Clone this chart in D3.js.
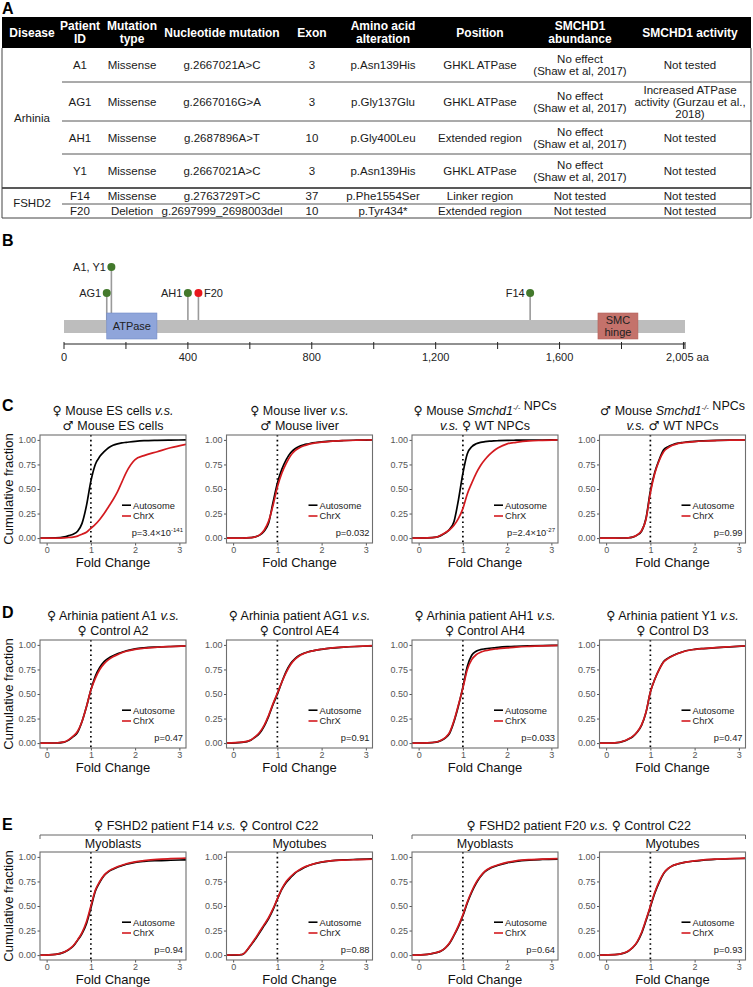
<!DOCTYPE html>
<html><head><meta charset="utf-8">
<script src="https://cdn.jsdelivr.net/npm/d3@7/dist/d3.min.js"></script>
<style>
body{margin:0;background:#fff}
svg{display:block;font-family:"Liberation Sans",Arial,Helvetica,sans-serif}
</style>
</head><body>
<svg id="fig" width="753" height="987"></svg>
<script>
// ================= DATA =================
// Panel A table
const tableHeaders = ["Disease","Patient\nID","Mutation\ntype","Nucleotide mutation","Exon","Amino acid\nalteration","Position","SMCHD1\nabundance","SMCHD1 activity"];
const diseaseGroups = ["Arhinia","FSHD2"];
const diseaseRowCounts = [4,2];
const patientIds = ["A1","AG1","AH1","Y1","F14","F20"];
const mutationTypes = ["Missense","Missense","Missense","Missense","Missense","Deletion"];
const nucleotideMutations = ["g.2667021A>C","g.2667016G>A","g.2687896A>T","g.2667021A>C","g.2763729T>C","g.2697999_2698003del"];
const exons = ["3","3","10","3","37","10"];
const aminoAcidChanges = ["p.Asn139His","p.Gly137Glu","p.Gly400Leu","p.Asn139His","p.Phe1554Ser","p.Tyr434*"];
const proteinRegions = ["GHKL ATPase","GHKL ATPase","Extended region","GHKL ATPase","Linker region","Extended region"];
const smchd1Abundance = ["No effect\n(Shaw et al, 2017)","No effect\n(Shaw et al, 2017)","No effect\n(Shaw et al, 2017)","No effect\n(Shaw et al, 2017)","Not tested","Not tested"];
const smchd1Activity = ["Not tested","Increased ATPase\nactivity (Gurzau et al.,\n2018)","Not tested","Not tested","Not tested","Not tested"];

// Panel B protein map
const proteinLength = 2005;
const domainNames = ["ATPase","SMC\nhinge"];
const domainStart = [138, 1724];
const domainEnd = [300, 1853];
const mutationLabels = ["AG1","A1, Y1","AH1","F20","F14"];
const mutationAA = [138, 153, 400, 434, 1505];
const mutationKinds = ["missense","missense","missense","deletion","missense"];
const mutationTier = [1,2,1,1,1];
const mutationLabelSide = ["left","left","left","right","left"];
const proteinTicks = [0,200,400,600,800,1000,1200,1400,1600,1800,2000,2005];
const proteinTickLabels = [0,400,800,1200,1600,2005];

// Panels C-E cumulative distributions (fold change grid)
const foldGrid = [-0.15,0.2,0.4,0.5,0.6,0.7,0.8,0.9,1.0,1.1,1.2,1.3,1.4,1.5,1.6,1.7,1.8,2.0,2.2,2.5,2.8,3.15];
const yTicks = [0,0.25,0.5,0.75,1];
const xTicks = [0,1,2,3];

const esAutosome   = [0,0.002,0.012,0.025,0.04,0.07,0.15,0.33,0.58,0.75,0.83,0.88,0.92,0.945,0.96,0.97,0.975,0.985,0.992,0.996,0.998,1];
const esChrX       = [0,0,0.003,0.006,0.01,0.02,0.04,0.06,0.10,0.14,0.19,0.25,0.32,0.39,0.47,0.57,0.67,0.80,0.84,0.88,0.92,0.955];
const liverAutosome= [0,0,0.005,0.012,0.03,0.07,0.15,0.36,0.56,0.7,0.8,0.87,0.91,0.935,0.95,0.96,0.97,0.98,0.988,0.994,0.997,1];
const liverChrX    = [0,0,0.005,0.013,0.033,0.08,0.17,0.33,0.52,0.66,0.76,0.84,0.89,0.92,0.94,0.955,0.965,0.977,0.986,0.993,0.997,1];
const fNpcAutosome = [0,0.002,0.01,0.025,0.05,0.09,0.17,0.39,0.66,0.86,0.93,0.96,0.975,0.982,0.987,0.99,0.992,0.995,0.997,0.998,0.999,1];
const fNpcChrX     = [0,0.002,0.01,0.03,0.055,0.085,0.13,0.2,0.3,0.45,0.56,0.66,0.74,0.8,0.85,0.89,0.92,0.96,0.975,0.99,0.995,1];
const mNpcAutosome = [0,0,0.001,0.003,0.01,0.03,0.07,0.2,0.48,0.67,0.8,0.9,0.93,0.95,0.965,0.972,0.977,0.985,0.99,0.995,0.998,1];
const mNpcChrX     = [0,0,0.001,0.003,0.011,0.032,0.075,0.19,0.46,0.66,0.79,0.88,0.92,0.945,0.96,0.968,0.974,0.983,0.989,0.994,0.997,1];

const a1Autosome   = [0,0.001,0.01,0.03,0.065,0.11,0.22,0.37,0.54,0.68,0.77,0.83,0.865,0.89,0.91,0.925,0.94,0.96,0.97,0.978,0.984,0.99];
const a1ChrX       = [0,0.001,0.012,0.035,0.07,0.12,0.22,0.37,0.54,0.66,0.75,0.81,0.85,0.88,0.9,0.92,0.935,0.955,0.966,0.976,0.983,0.99];
const ag1Autosome  = [0,0.008,0.03,0.06,0.1,0.17,0.27,0.39,0.5,0.62,0.73,0.81,0.86,0.895,0.915,0.93,0.94,0.955,0.967,0.977,0.984,0.99];
const ag1ChrX      = [0,0.009,0.032,0.065,0.11,0.18,0.28,0.4,0.51,0.62,0.72,0.8,0.855,0.89,0.912,0.928,0.94,0.956,0.968,0.978,0.985,0.992];
const ah1Autosome  = [0,0.002,0.01,0.025,0.05,0.1,0.22,0.38,0.57,0.78,0.895,0.935,0.952,0.96,0.966,0.97,0.975,0.982,0.986,0.99,0.993,0.995];
const ah1ChrX      = [0,0.002,0.011,0.027,0.055,0.11,0.23,0.39,0.56,0.75,0.85,0.9,0.925,0.94,0.95,0.956,0.962,0.97,0.978,0.985,0.99,0.995];
const y1Autosome   = [0,0.003,0.02,0.04,0.065,0.11,0.18,0.31,0.52,0.65,0.75,0.83,0.865,0.89,0.91,0.925,0.94,0.955,0.963,0.972,0.98,0.99];
const y1ChrX       = [0,0.003,0.021,0.042,0.068,0.112,0.185,0.315,0.52,0.65,0.75,0.825,0.862,0.888,0.908,0.924,0.938,0.954,0.963,0.973,0.981,0.99];

const f14MbAutosome= [0,0.008,0.03,0.055,0.09,0.15,0.22,0.32,0.48,0.65,0.74,0.81,0.85,0.875,0.895,0.91,0.925,0.945,0.955,0.962,0.966,0.97];
const f14MbChrX    = [0,0.008,0.032,0.058,0.095,0.155,0.23,0.34,0.5,0.66,0.75,0.815,0.855,0.88,0.9,0.915,0.93,0.95,0.962,0.975,0.982,0.988];
const f14MtAutosome= [0,0.005,0.1,0.16,0.23,0.3,0.37,0.46,0.57,0.67,0.74,0.79,0.835,0.865,0.89,0.91,0.925,0.947,0.96,0.97,0.975,0.98];
const f14MtChrX    = [0,0.006,0.105,0.17,0.24,0.31,0.38,0.47,0.575,0.675,0.75,0.8,0.84,0.87,0.895,0.912,0.927,0.948,0.96,0.968,0.972,0.976];
const f20MbAutosome= [0,0.008,0.025,0.04,0.07,0.12,0.2,0.29,0.4,0.53,0.64,0.73,0.8,0.85,0.88,0.9,0.915,0.94,0.955,0.968,0.974,0.978];
const f20MbChrX    = [0,0.008,0.026,0.042,0.072,0.125,0.205,0.3,0.41,0.54,0.65,0.74,0.805,0.855,0.885,0.905,0.92,0.945,0.96,0.972,0.978,0.982];
const f20MtAutosome= [0,0.004,0.02,0.04,0.075,0.13,0.22,0.35,0.49,0.63,0.74,0.83,0.88,0.91,0.925,0.937,0.946,0.958,0.968,0.976,0.981,0.985];
const f20MtChrX    = [0,0.004,0.021,0.042,0.078,0.135,0.23,0.36,0.5,0.64,0.75,0.835,0.882,0.91,0.926,0.938,0.947,0.96,0.97,0.978,0.983,0.987];

const titlesC = [["♀ Mouse ES cells _v.s._","♂ Mouse ES cells"],["♀ Mouse liver _v.s._","♂ Mouse liver"],["♀ Mouse _Smchd1_^{-/-} NPCs","_v.s._ ♀ WT NPCs"],["♂ Mouse _Smchd1_^{-/-} NPCs","_v.s._ ♂ WT NPCs"]];
const pValuesC = ["p=3.4×10^{-141}","p=0.032","p=2.4×10^{-27}","p=0.99"];
const titlesD = [["♀ Arhinia patient A1 _v.s._","♀ Control A2"],["♀ Arhinia patient AG1 _v.s._","♀ Control AE4"],["♀ Arhinia patient AH1 _v.s._","♀ Control AH4"],["♀ Arhinia patient Y1 _v.s._","♀ Control D3"]];
const pValuesD = ["p=0.47","p=0.91","p=0.033","p=0.47"];
const groupTitlesE = ["♀ FSHD2 patient F14 _v.s._ ♀ Control C22","♀ FSHD2 patient F20 _v.s._ ♀ Control C22"];
const subTitlesE = ["Myoblasts","Myotubes","Myoblasts","Myotubes"];
const pValuesE = ["p=0.94","p=0.88","p=0.64","p=0.93"];
const seriesNames = ["Autosome","ChrX"];

const seriesC = [[esAutosome,esChrX],[liverAutosome,liverChrX],[fNpcAutosome,fNpcChrX],[mNpcAutosome,mNpcChrX]];
const seriesD = [[a1Autosome,a1ChrX],[ag1Autosome,ag1ChrX],[ah1Autosome,ah1ChrX],[y1Autosome,y1ChrX]];
const seriesE = [[f14MbAutosome,f14MbChrX],[f14MtAutosome,f14MtChrX],[f20MbAutosome,f20MbChrX],[f20MtAutosome,f20MtChrX]];

// ================= DRAWING =================
const svg = d3.select("#fig");
const defs = svg.append("defs");
const RED = "#d31a1f", GREEN = "#43792c", DOTRED = "#e8171c";

function plain(sel, str, baseSize) {
  str.split(/([♀♂])/).filter(s => s.length).forEach(s => {
    if (s === "♀" || s === "♂") {
      sel.append("tspan").attr("font-family", '"DejaVu Sans",sans-serif').attr("font-size", baseSize).text(s);
    } else {
      sel.append("tspan").text(s);
    }
  });
}
// rich text: _italic_ and ^{sup}
function rich(sel, str, baseSize) {
  const parts = str.split(/(_[^_]+_\^\{[^}]+\}|_[^_]+_|\^\{[^}]+\})/).filter(s => s.length);
  parts.forEach(p => {
    let m;
    if ((m = p.match(/^_([^_]+)_\^\{([^}]+)\}$/))) {
      sel.append("tspan").attr("font-style","italic").text(m[1]);
      sel.append("tspan").attr("font-style","italic").attr("font-size", baseSize*0.62).attr("dy", -baseSize*0.38).text(m[2]);
      sel.append("tspan").attr("dy", baseSize*0.38).text("");
    } else if ((m = p.match(/^_([^_]+)_$/))) {
      sel.append("tspan").attr("font-style","italic").text(m[1]);
    } else if ((m = p.match(/^\^\{([^}]+)\}$/))) {
      sel.append("tspan").attr("font-size", baseSize*0.65).attr("dy", -baseSize*0.4).text(m[1]);
      sel.append("tspan").attr("dy", baseSize*0.4).text("");
    } else {
      plain(sel, p, baseSize);
    }
  });
  return sel;
}

function label(g, x, y, str, size, opts={}) {
  const t = g.append("text").attr("x", x).attr("y", y)
    .attr("font-size", size).attr("text-anchor", opts.anchor || "middle")
    .attr("fill", opts.fill || "#000");
  if (opts.bold) t.attr("font-weight","bold");
  rich(t, str, size);
  return t;
}

function multiline(g, x, cy, str, size, lh, opts={}) {
  const lines = str.split("\n");
  const n = lines.length;
  lines.forEach((ln, i) => {
    const y = cy + (i - (n-1)/2)*lh + size*0.36;
    label(g, x, y, ln, size, opts);
  });
}

// panel letters
[["A",14],["B",246],["C",411],["D",618],["E",830]].forEach(([l,y]) =>
  svg.append("text").attr("x",2).attr("y",y).attr("font-size",16).attr("font-weight","bold").text(l));

// ---------- Panel A ----------
(function(){
  const g = svg.append("g");
  const colCenters = [32,80,132,222,312,383,480,580,690];
  const rowEdges = [48,82,121,154,188,204,218];
  const L = 2, R = 751, innerL = 62;
  g.append("rect").attr("x",L).attr("y",17).attr("width",R-L).attr("height",31).attr("fill","#000");
  tableHeaders.forEach((h,i) => multiline(g, colCenters[i], 32.5, h, 12, 13, {bold:true, fill:"#fff"}));
  const cols = [patientIds, mutationTypes, nucleotideMutations, exons, aminoAcidChanges, proteinRegions, smchd1Abundance, smchd1Activity];
  patientIds.forEach((_, r) => {
    const cy = (rowEdges[r] + rowEdges[r+1]) / 2;
    cols.forEach((col, c) => multiline(g, colCenters[c+1], cy, col[r], 11.5, 12, {fill:"#1a1a1a"}));
  });
  let start = 0;
  diseaseGroups.forEach((d, i) => {
    const cy = (rowEdges[start] + rowEdges[start + diseaseRowCounts[i]]) / 2;
    multiline(g, colCenters[0], cy, d, 11.5, 12, {fill:"#1a1a1a"});
    start += diseaseRowCounts[i];
  });
  const lineCol = "#444";
  [1,2,3,5].forEach(k => g.append("line").attr("x1",innerL).attr("x2",R).attr("y1",rowEdges[k]).attr("y2",rowEdges[k]).attr("stroke",lineCol).attr("stroke-width",0.9));
  g.append("line").attr("x1",L).attr("x2",R).attr("y1",rowEdges[4]).attr("y2",rowEdges[4]).attr("stroke","#222").attr("stroke-width",1.5);
  g.append("path").attr("d",`M${L},${rowEdges[0]}V${rowEdges[6]}H${R}V${rowEdges[0]}`).attr("fill","none").attr("stroke",lineCol).attr("stroke-width",1);
})();

// ---------- Panel B ----------
(function(){
  const g = svg.append("g");
  const x = d3.scaleLinear().domain([0, proteinLength]).range([64, 685]);
  const barTop = 320, barH = 13;
  const tierY = {1: 293, 2: 267};
  mutationAA.forEach((aa, i) => {
    g.append("line").attr("x1",x(aa)).attr("x2",x(aa)).attr("y1",tierY[mutationTier[i]]).attr("y2",barTop+1)
      .attr("stroke","#9a9a9a").attr("stroke-width",1.6);
  });
  g.append("rect").attr("x",x(0)).attr("y",barTop).attr("width",x(proteinLength)-x(0)).attr("height",barH).attr("fill","#bdbdbd");
  const domainFill = ["#8fa5da","#c4726b"];
  const domainStroke = ["#7189c6","#b35f58"];
  domainNames.forEach((d,i) => {
    g.append("rect").attr("x",x(domainStart[i])).attr("y",313).attr("width",x(domainEnd[i])-x(domainStart[i])).attr("height",26)
      .attr("fill",domainFill[i]).attr("stroke",domainStroke[i]).attr("stroke-width",0.6);
    multiline(g, (x(domainStart[i])+x(domainEnd[i]))/2, 326, d, 11, 12.5, {fill:"#222"});
  });
  mutationAA.forEach((aa, i) => {
    const cy = tierY[mutationTier[i]];
    g.append("circle").attr("cx",x(aa)).attr("cy",cy).attr("r",4).attr("fill", mutationKinds[i]==="deletion" ? DOTRED : GREEN);
    const left = mutationLabelSide[i]==="left";
    g.append("text").attr("x", x(aa) + (left ? -5.5 : 5.5)).attr("y", cy+4).attr("font-size",11)
      .attr("text-anchor", left ? "end" : "start").attr("fill","#222").text(mutationLabels[i]);
  });
  const axisY = 344;
  g.append("line").attr("x1",x(0)).attr("x2",x(proteinLength)).attr("y1",axisY).attr("y2",axisY).attr("stroke","#222").attr("stroke-width",1);
  proteinTicks.forEach(t => g.append("line").attr("x1",x(t)).attr("x2",x(t)).attr("y1",axisY-2).attr("y2",axisY+5).attr("stroke","#222").attr("stroke-width",1));
  const fmt = d3.format(",");
  proteinTickLabels.forEach(t => {
    if (t === proteinLength) {
      g.append("text").attr("x", x(t)-19).attr("y",361).attr("font-size",11).attr("fill","#222").text(fmt(t) + " aa");
    } else {
      g.append("text").attr("x", x(t)).attr("y",361).attr("font-size",11).attr("text-anchor","middle").attr("fill","#222").text(fmt(t));
    }
  });
})();

// ---------- CDF plots ----------
let clipId = 0;
const PW = 146, PH = 108;
const plotLefts = [40, 226.5, 412, 599.5];
function cdfPlot(left, top, auto, chrx, pLabel) {
  const g = svg.append("g");
  const x = d3.scaleLinear().domain([-0.15, 3.15]).range([left, left + PW]);
  const y = d3.scaleLinear().domain([-0.05, 1.05]).range([top + PH, top]);
  const id = "clip" + (clipId++);
  defs.append("clipPath").attr("id", id).append("rect").attr("x", left).attr("y", top).attr("width", PW).attr("height", PH);
  const yAx = g.append("g").attr("transform", `translate(${left},0)`)
    .call(d3.axisLeft(y).tickValues(yTicks).tickFormat(d3.format(".2f")).tickSize(2.5).tickPadding(1.5));
  const xAx = g.append("g").attr("transform", `translate(0,${top + PH})`)
    .call(d3.axisBottom(x).tickValues(xTicks).tickFormat(d3.format("d")).tickSize(2.5).tickPadding(1.5));
  [yAx, xAx].forEach(a => {
    a.select(".domain").remove();
    a.selectAll("line").attr("stroke", "#555");
    a.selectAll("text").attr("font-size", 9).attr("fill", "#555").attr("font-family", '"Liberation Sans",Arial,sans-serif');
  });
  const cg = g.append("g").attr("clip-path", `url(#${id})`);
  cg.append("line").attr("x1", x(1)).attr("x2", x(1)).attr("y1", top).attr("y2", top + PH)
    .attr("stroke", "#000").attr("stroke-width", 1.7).attr("stroke-dasharray", "1.6,3.2");
  const line = d3.line().x((d, i) => x(foldGrid[i])).y(d => y(d)).curve(d3.curveMonotoneX);
  cg.append("path").attr("d", line(auto)).attr("fill", "none").attr("stroke", "#000").attr("stroke-width", 1.7);
  cg.append("path").attr("d", line(chrx)).attr("fill", "none").attr("stroke", RED).attr("stroke-width", 1.7);
  g.append("rect").attr("x", left).attr("y", top).attr("width", PW).attr("height", PH)
    .attr("fill", "none").attr("stroke", "#6e6e6e").attr("stroke-width", 1.1);
  const lx = left + 82;
  [[seriesNames[0], "#000", 0.335], [seriesNames[1], RED, 0.225]].forEach(([n, c, v]) => {
    g.append("line").attr("x1", lx).attr("x2", lx + 9).attr("y1", y(v)).attr("y2", y(v)).attr("stroke", c).attr("stroke-width", 1.6);
    g.append("text").attr("x", lx + 11).attr("y", y(v) + 3.3).attr("font-size", 9.3).attr("fill", "#222").text(n);
  });
  label(g, left + PW - 3, y(0.02), pLabel, 9.3, {anchor: "end", fill: "#222"});
  return g;
}

function ylabel(cy) {
  svg.append("text").attr("transform", `translate(13,${cy}) rotate(-90)`).attr("text-anchor", "middle")
    .attr("font-size", 13).attr("fill", "#111").text("Cumulative fraction");
}

const TS = 12.5;
// Panel C
const topC = 435;
seriesC.forEach((s, i) => {
  cdfPlot(plotLefts[i], topC, s[0], s[1], pValuesC[i]);
  const cx = plotLefts[i] + PW/2;
  label(svg, cx, 415, titlesC[i][0], TS, {fill:"#111"});
  label(svg, cx, 430, titlesC[i][1], TS, {fill:"#111"});
  label(svg, cx, topC + PH + 24, "Fold Change", 13, {fill:"#111"});
});
ylabel(topC + PH/2);

// Panel D
const topD = 640;
seriesD.forEach((s, i) => {
  cdfPlot(plotLefts[i], topD, s[0], s[1], pValuesD[i]);
  const cx = plotLefts[i] + PW/2;
  label(svg, cx, 620, titlesD[i][0], TS, {fill:"#111"});
  label(svg, cx, 635, titlesD[i][1], TS, {fill:"#111"});
  label(svg, cx, topD + PH + 24, "Fold Change", 13, {fill:"#111"});
});
ylabel(topD + PH/2);

// Panel E
const topE = 852;
seriesE.forEach((s, i) => {
  cdfPlot(plotLefts[i], topE, s[0], s[1], pValuesE[i]);
  const cx = plotLefts[i] + PW/2;
  label(svg, cx, 848, subTitlesE[i], TS, {fill:"#111"});
  label(svg, cx, topE + PH + 24, "Fold Change", 13, {fill:"#111"});
});
groupTitlesE.forEach((t, k) => {
  const l = plotLefts[2*k], r = plotLefts[2*k+1] + PW;
  label(svg, (l + r)/2, 830, t, TS, {fill:"#111"});
  svg.append("path").attr("d", `M${l},839V835H${r}V839`).attr("fill","none").attr("stroke","#666").attr("stroke-width",1);
});
ylabel(topE + PH/2);
</script>
</body></html>
